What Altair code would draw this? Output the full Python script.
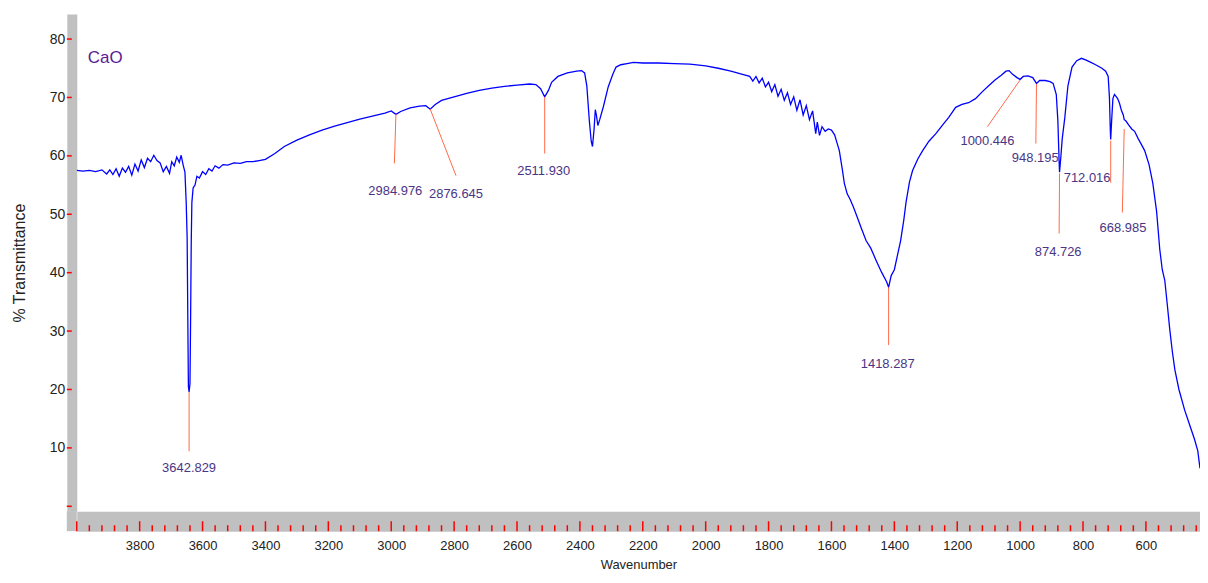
import altair as alt
import pandas as pd

# ---------------- data ----------------
wavenumber = [
    4000, 3980, 3960, 3940, 3920, 3905, 3895, 3885, 3875, 3865, 3855, 3845, 3835, 3825,
    3815, 3805, 3795, 3785, 3775, 3765, 3755, 3745, 3735, 3725, 3715, 3705, 3698, 3690,
    3682, 3674, 3668, 3662, 3656, 3652, 3649, 3647, 3645, 3642.8, 3640, 3638, 3636, 3634,
    3630, 3624, 3618, 3610, 3600, 3590, 3580, 3570, 3560, 3548, 3535, 3520, 3500, 3480,
    3460, 3440, 3420, 3400, 3370, 3340, 3300, 3260, 3220, 3180, 3140, 3100, 3060, 3020,
    3000, 2985, 2970, 2940, 2910, 2890, 2876, 2860, 2840, 2800, 2760, 2720, 2680, 2640,
    2600, 2560, 2540, 2525, 2512, 2500, 2490, 2470, 2440, 2410, 2395, 2385, 2378, 2370,
    2364, 2360, 2355, 2351, 2347, 2343, 2337, 2325, 2310, 2295, 2285, 2270, 2250, 2230,
    2200, 2150, 2100, 2050, 2000, 1960, 1920, 1880, 1860, 1850, 1840, 1830, 1820, 1810,
    1800, 1790, 1780, 1770, 1760, 1750, 1740, 1730, 1720, 1710, 1700, 1690, 1680, 1670,
    1660, 1650, 1645, 1638, 1630, 1620, 1610, 1600, 1590, 1580, 1575, 1565, 1559, 1550,
    1540, 1530, 1520, 1505, 1490, 1475, 1458, 1440, 1425, 1418.3, 1410, 1400, 1390, 1380,
    1370, 1363, 1352, 1342, 1325, 1310, 1290, 1268, 1245, 1227, 1205, 1185, 1164, 1142,
    1120, 1100, 1080, 1060, 1045, 1035, 1025, 1010, 1000, 990, 975, 960, 948, 938,
    920, 905, 895, 885, 880, 876, 874.7, 871, 866, 858, 848, 835, 820, 805,
    790, 775, 760, 740, 728, 720, 716, 713, 712, 709, 705, 700, 695, 690,
    684, 678, 672, 669, 664, 655, 645, 636, 625, 615, 604, 590, 578, 566,
    556, 548, 540, 532, 524, 516, 508, 495, 477, 460, 445, 435, 428,
]
transmittance = [
    57.5, 57.4, 57.5, 57.3, 57.6, 56.9, 57.6, 56.8, 57.8, 56.5, 57.9, 57.2, 58.2, 56.7,
    58.6, 57.4, 59.3, 58.0, 59.6, 59.0, 60.1, 59.2, 58.8, 57.3, 58.2, 57.0, 59.0, 58.3,
    59.8, 58.9, 60.1, 58.5, 57.2, 52.0, 46.0, 33.0, 20.5, 19.6, 21.0, 32.0, 45.0, 52.0,
    54.5, 55.0, 56.5, 56.2, 57.3, 56.8, 57.8, 57.4, 58.3, 57.9, 58.5, 58.4, 58.8, 58.7,
    59.0, 59.0, 59.2, 59.4, 60.4, 61.6, 62.7, 63.6, 64.4, 65.1, 65.7, 66.3, 66.8, 67.3,
    67.7, 67.1, 67.6, 68.2, 68.5, 68.6, 68.0, 68.8, 69.5, 70.1, 70.7, 71.2, 71.6, 71.9,
    72.1, 72.3, 72.2, 71.5, 70.1, 71.2, 72.6, 73.6, 74.2, 74.5, 74.6, 74.2, 72.0, 66.0,
    62.5, 61.6, 64.5, 67.9, 66.8, 65.2, 66.2, 68.5, 71.8, 74.0, 75.2, 75.6, 75.8, 76.0,
    75.9, 75.9, 75.8, 75.7, 75.4, 75.0, 74.5, 73.9, 73.6, 72.8, 73.6, 72.5, 73.3, 71.8,
    72.6, 71.0, 72.2, 70.2, 71.4, 69.5, 70.8, 68.8, 70.1, 67.8, 69.6, 67.0, 68.6, 66.2,
    67.7, 63.8, 65.8, 63.5, 65.0, 64.2, 64.6, 64.4, 63.6, 61.8, 60.9, 57.5, 55.3, 53.5,
    52.5, 51.2, 49.8, 47.6, 45.5, 44.2, 42.1, 40.0, 38.5, 37.5, 39.5, 40.5, 43.0, 45.5,
    49.0, 52.0, 55.5, 57.5, 59.5, 60.9, 62.5, 63.8, 65.4, 66.6, 68.3, 68.8, 69.1, 69.8,
    71.0, 72.0, 73.0, 73.8, 74.5, 74.6, 74.0, 73.4, 73.1, 73.6, 73.7, 73.4, 72.4, 72.9,
    72.9, 72.7, 72.4, 70.5, 66.0, 59.0, 57.2, 59.5, 63.0, 66.5, 72.0, 75.2, 76.3, 76.7,
    76.4, 76.0, 75.6, 75.0, 74.5, 73.6, 70.0, 64.0, 62.8, 66.0, 69.8, 70.5, 70.2, 69.8,
    69.0, 67.8, 67.0, 66.2, 66.0, 65.3, 64.6, 64.2, 63.0, 62.0, 60.9, 58.5, 55.3, 50.5,
    44.0, 40.5, 38.7, 34.5, 30.2, 26.5, 23.4, 20.0, 16.5, 13.8, 11.4, 9.5, 6.5,
]

peak_labels = ["3642.829", "2984.976", "2876.645", "2511.930", "1418.287",
               "1000.446", "948.195", "874.726", "712.016", "668.985"]
peak_x1 = [3642.8, 2985, 2876, 2512, 1418.3, 1000, 948, 874.7, 712, 669]
peak_y1 = [19.6, 67.2, 68.0, 70.1, 37.5, 73.0, 72.3, 57.0, 62.6, 64.6]
peak_x2 = [3642.8, 2990, 2794, 2512, 1418.3, 1104, 950, 876, 712, 675]
peak_y2 = [9.4, 58.7, 56.6, 60.4, 27.6, 65.0, 62.1, 46.7, 55.4, 50.3]
label_x = [3642.8, 2987, 2794, 2515, 1421, 1104, 952, 879, 787, 673]
label_y = [6.6, 54.0, 53.4, 57.4, 24.4, 62.5, 59.6, 43.6, 56.2, 47.6]

x_major = [4000, 3800, 3600, 3400, 3200, 3000, 2800, 2600, 2400, 2200,
           2000, 1800, 1600, 1400, 1200, 1000, 800, 600]
x_minor = [v for v in range(3960, 427, -40) if v % 200 != 0]
y_major = [0, 10, 20, 30, 40, 50, 60, 70, 80]
sample_name = ["CaO"]

# ---------------- chart ----------------
W, H = 1127, 499
FONT = "Liberation Sans, Arial"
GRAY = "#c0c0c0"
RED = "#ff0000"

xs = alt.Scale(domain=[428, 4000], reverse=True, nice=False, zero=False)
ys = alt.Scale(domain=[-0.85, 84.3], nice=False, zero=False)

spec_df = pd.DataFrame({"wn": wavenumber, "t": transmittance})
peaks_df = pd.DataFrame({"label": peak_labels, "x1": peak_x1, "y1": peak_y1,
                         "x2": peak_x2, "y2": peak_y2, "lx": label_x, "ly": label_y})
xmaj_df = pd.DataFrame({"v": x_major})
xmin_df = pd.DataFrame({"v": x_minor})
ymaj_df = pd.DataFrame({"v": y_major})
name_df = pd.DataFrame({"name": sample_name})

x_axis = alt.Axis(values=x_major, format="d",
                  labelExpr="datum.value == 4000 ? '' : datum.label",
                  ticks=False, tickSize=0, grid=False, domainColor=GRAY, domainWidth=20,
                  offset=10, labelPadding=18, labelFont=FONT, labelFontSize=13,
                  labelColor="#222222", title="Wavenumber", titleFont=FONT,
                  titleFontSize=13, titleFontWeight="normal", titleColor="#222222",
                  titlePadding=6, zindex=0, labelFlush=False)
y_axis = alt.Axis(values=y_major, format="d",
                  labelExpr="datum.value == 0 ? '' : datum.label",
                  ticks=False, tickSize=0, grid=False, domainColor=GRAY, domainWidth=10,
                  offset=5, labelPadding=7, labelFont=FONT, labelFontSize=14,
                  labelColor="#222222", title="% Transmittance", titleFont=FONT,
                  titleFontSize=16, titleFontWeight="normal", titleColor="#222222",
                  titlePadding=22, zindex=0)

line = alt.Chart(spec_df).mark_line(color="#0000ff", strokeWidth=1.3, clip=True).encode(
    x=alt.X("wn:Q", scale=xs, axis=x_axis),
    y=alt.Y("t:Q", scale=ys, axis=y_axis),
)

corner = alt.Chart(name_df).mark_rect(color=GRAY).encode(
    x=alt.value(-10), x2=alt.value(0), y=alt.value(H), y2=alt.value(H + 20))

xmaj = alt.Chart(xmaj_df).mark_rule(color=RED, strokeWidth=1.5).encode(
    x=alt.X("v:Q", scale=xs, axis=x_axis), y=alt.value(H + 10), y2=alt.value(H + 20))
xmin = alt.Chart(xmin_df).mark_rule(color=RED, strokeWidth=1.5).encode(
    x=alt.X("v:Q", scale=xs, axis=x_axis), y=alt.value(H + 14), y2=alt.value(H + 20))
ymaj = alt.Chart(ymaj_df).mark_rule(color=RED, strokeWidth=1.5).encode(
    y=alt.Y("v:Q", scale=ys, axis=y_axis), x=alt.value(-10), x2=alt.value(-5))

peak_lines = alt.Chart(peaks_df).mark_rule(color="#ff6a48", strokeWidth=1).encode(
    x=alt.X("x1:Q", scale=xs, axis=x_axis), y=alt.Y("y1:Q", scale=ys, axis=y_axis),
    x2="x2:Q", y2="y2:Q")
peak_text = alt.Chart(peaks_df).mark_text(
    font=FONT, fontSize=13, color="#4a3585", baseline="middle", align="center").encode(
    x=alt.X("lx:Q", scale=xs, axis=x_axis), y=alt.Y("ly:Q", scale=ys, axis=y_axis),
    text="label:N")

name_text = alt.Chart(name_df).mark_text(
    font=FONT, fontSize=17, color="#5b1a96", baseline="middle", align="left").encode(
    x=alt.value(11), y=alt.value(44), text="name:N")

chart = alt.layer(line, corner, xmaj, xmin, ymaj, peak_lines, peak_text, name_text).properties(
    width=W, height=H,
    padding={"left": 69, "top": 5, "right": 0, "bottom": 62},
    autosize=alt.AutoSizeParams(type="none"),
    background="white",
).configure_view(stroke="transparent", strokeWidth=0)

chart.save("out.html", embed_options={"renderer": "svg", "actions": False})
